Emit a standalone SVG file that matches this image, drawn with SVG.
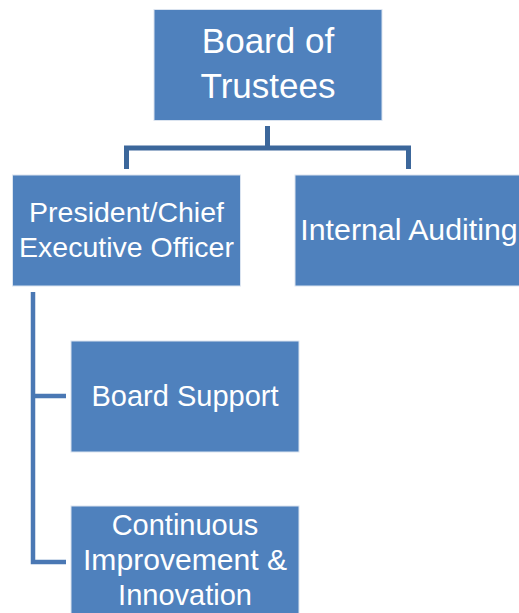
<svg xmlns="http://www.w3.org/2000/svg" width="519" height="613" viewBox="0 0 519 613">
<style>
.box{fill:#4f81bd;stroke:#dbe4f0;stroke-width:1}
.t{font-family:"Liberation Sans",Arial,sans-serif;fill:#ffffff;text-anchor:middle}
.c1{fill:none;stroke:#3c679b;stroke-width:5}
.c2{fill:none;stroke:#4a78b4;stroke-width:4.5}
</style>
<rect width="519" height="613" fill="#ffffff"/>
<g id="connectors">
<path class="c1" d="M267.5,126 V148 M126.5,169 V148 H408.5 V169"/>
<path class="c2" d="M33,292 V562 H66 M33,396 H66"/>
</g>
<g id="board">
<rect class="box" x="154" y="9.5" width="228" height="111"/>
<text class="t" x="268" y="53" font-size="35">Board of</text>
<text class="t" x="268" y="97.5" font-size="35">Trustees</text>
</g>
<g id="president">
<rect class="box" x="12.5" y="175" width="228" height="111"/>
<text class="t" x="126.5" y="222" font-size="28.5">President/Chief</text>
<text class="t" x="126.5" y="257" font-size="28.5">Executive Officer</text>
</g>
<g id="auditing">
<rect class="box" x="295" y="175" width="228" height="111"/>
<text class="t" x="409" y="240" font-size="30.3">Internal Auditing</text>
</g>
<g id="support">
<rect class="box" x="71" y="341" width="228" height="111"/>
<text class="t" x="185" y="406" font-size="29">Board Support</text>
</g>
<g id="improvement">
<rect class="box" x="71" y="506" width="228" height="111"/>
<text class="t" x="185" y="535" font-size="29">Continuous</text>
<text class="t" x="185" y="570" font-size="29" textLength="204" lengthAdjust="spacingAndGlyphs">Improvement &amp;</text>
<text class="t" x="185" y="605" font-size="29">Innovation</text>
</g>
</svg>
